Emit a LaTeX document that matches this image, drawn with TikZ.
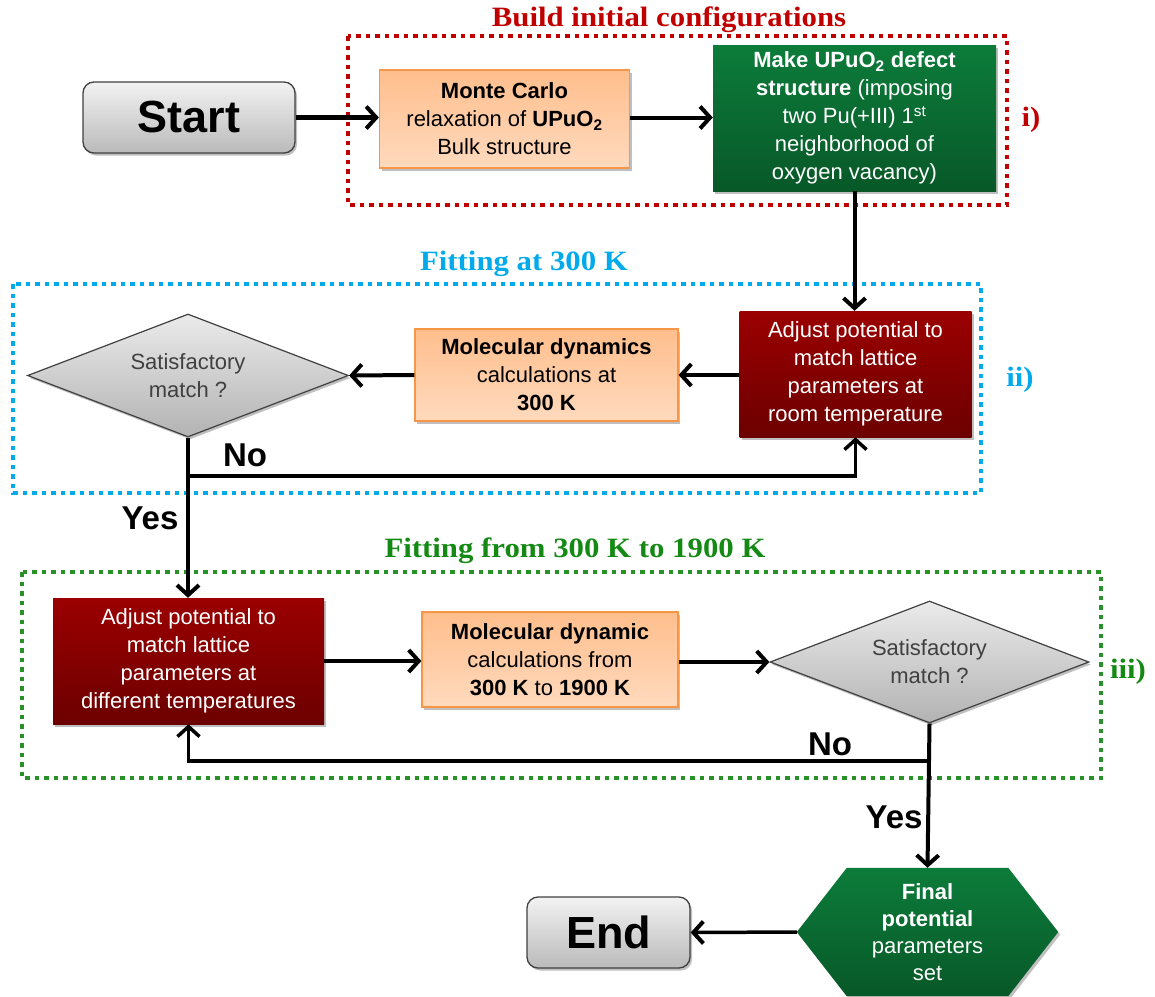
\documentclass[tikz,border=0pt]{standalone}
\usepackage{fontspec}
\setmainfont{Liberation Sans}
\newfontfamily\titlefont[FakeStretch=1.1]{Liberation Serif}
\usetikzlibrary{arrows.meta,shadows,shapes.geometric,calc}
\definecolor{tred}{RGB}{192,0,0}
\definecolor{tblue}{RGB}{0,170,235}
\definecolor{tgreen}{RGB}{20,138,20}
\definecolor{dgreen}{RGB}{40,145,40}
\definecolor{orbord}{RGB}{247,150,70}
\definecolor{ortop}{RGB}{255,190,140}
\definecolor{orbot}{RGB}{255,218,190}
\definecolor{rtop}{RGB}{155,0,0}
\definecolor{rbot}{RGB}{108,0,0}
\definecolor{gtop}{RGB}{12,124,58}
\definecolor{gbot}{RGB}{8,88,40}
\definecolor{txtgray}{RGB}{64,64,64}
\begin{document}
\begin{tikzpicture}[x=1pt,y=-1pt,
  shad/.style={drop shadow={shadow xshift=2pt,shadow yshift=-2.5pt,opacity=0.25,fill=black}},
  box/.style={inner sep=0pt,align=center,font=\fontsize{22}{28}\selectfont,shad},
  graybox/.style={box,rounded corners=11pt,draw=black!75,line width=1.3pt,top color=black!5,bottom color=black!27,font=\fontsize{45}{50}\selectfont\bfseries},
  orangebox/.style={box,draw=orbord,line width=1.2pt,top color=ortop,bottom color=orbot},
  redbox/.style={box,top color=rtop,bottom color=rbot,text=white},
  greenbox/.style={box,top color=gtop,bottom color=gbot,text=white},
  decision/.style={diamond,aspect=2.6,inner sep=0pt,align=center,draw=black!75,line width=1.2pt,top color=black!8,bottom color=black!30,text=txtgray,font=\fontsize{22}{28}\selectfont,shad},
  frame/.style={line width=4pt,dash pattern=on 4.5pt off 5pt},
  ttl/.style={font=\titlefont\fontsize{28}{30}\selectfont\bfseries},
  lbl/.style={font=\fontsize{33}{36}\selectfont\bfseries},
  arr/.style={line width=4pt,-{Straight Barb[length=10pt,width=22pt,line width=4pt]}},
  lin/.style={line width=3.5pt}
]
\useasboundingbox (0,0) rectangle (1155,996);

% frames
\draw[frame,tred] (348,36) rectangle (1007,205);
\draw[frame,tblue] (13,284) rectangle (981,493);
\draw[frame,dgreen] (22,572) rectangle (1101,778);

\node[ttl,text=tred] (t1) at (669,20) {Build initial configurations};
\node[ttl,text=tblue] (t2) at (524,264) {Fitting at 300 K};
\node[ttl,text=tgreen] (t3) at (575,551) {Fitting from 300 K to 1900 K};
\node[ttl,text=tred] (l1) at (1031,120) {i)};
\node[ttl,text=tblue] (l2) at (1020,380) {ii)};
\node[ttl,text=tgreen] (l3) at (1128,672) {iii)};

% nodes
\node[graybox,minimum width=212pt,minimum height=71pt] (start) at (189,117.5) {Start};
\node[orangebox,minimum width=250pt,minimum height=98pt] (mc) at (504.5,119)
  {{\bfseries Monte Carlo}\\relaxation of {\bfseries UPuO\textsubscript{2}}\\Bulk structure};
\node[greenbox,minimum width=283pt,minimum height=146pt] (mk) at (854.5,118)
  {{\bfseries Make UPuO\textsubscript{2} defect}\\{\bfseries structure} (imposing\\two Pu(+III) 1\textsuperscript{st}\\neighborhood of\\oxygen vacancy)};
\node[redbox,minimum width=232pt,minimum height=126pt] (adj1) at (855.5,374)
  {Adjust potential to\\match lattice\\parameters at\\room temperature};
\node[orangebox,minimum width=263pt,minimum height=92pt] (md1) at (546.5,375)
  {{\bfseries Molecular dynamics}\\calculations at\\{\bfseries 300 K}};
\node[decision,minimum width=321pt,minimum height=123pt] (dec1) at (188,375.5)
  {Satisfactory\\match ?};
\node[redbox,minimum width=271pt,minimum height=126pt] (adj2) at (188.5,661)
  {Adjust potential to\\match lattice\\parameters at\\different temperatures};
\node[orangebox,minimum width=256pt,minimum height=95pt] (md2) at (550,659.5)
  {{\bfseries Molecular dynamic}\\calculations from\\{\bfseries 300 K} to {\bfseries 1900 K}};
\node[decision,minimum width=319pt,minimum height=122pt] (dec2) at (929.5,662)
  {Satisfactory\\match ?};
\node[inner sep=0pt,minimum width=261pt,minimum height=128pt] (fin) at (927.5,932) {};
\path[top color=gtop,bottom color=gbot,shad]
  ([xshift=50pt]fin.north west) -- ([xshift=-50pt]fin.north east) -- (fin.east)
  -- ([xshift=-50pt]fin.south east) -- ([xshift=50pt]fin.south west) -- (fin.west) -- cycle;
\node[align=center,text=white,font=\fontsize{22}{27}\selectfont] (fintext) at (fin.center)
  {{\bfseries Final}\\{\bfseries potential}\\parameters\\set};
\node[graybox,minimum width=163pt,minimum height=71pt] (endn) at (608.5,932.5) {End};

% connectors
\draw[arr,line width=4.5pt] (start.east) -- (start.east -| mc.west);
\draw[arr] (mc.east |- start.east) -- (start.east -| mk.west);
\draw[arr] (mk.south) -- (mk.south |- adj1.north);
\draw[arr] (adj1.west |- md1.east) -- (md1.east);
\draw[arr] (md1.west) -- (dec1.east);
\draw[arr] (dec1.south) -- (dec1.south |- adj2.north);
\coordinate (j1) at (dec1.south |- 0,476);
\draw[lin,-{Straight Barb[length=10pt,width=22pt,line width=3.5pt]}] (j1) -- (j1 -| adj1.south) -- (adj1.south);
\node[lbl] (no1) at (245,455) {No};
\node[lbl] (yes1) at (150,518) {Yes};
\draw[arr] (adj2.east) -- (adj2.east -| md2.west);
\draw[arr] (md2.east |- dec2.west) -- (dec2.west);
\draw[arr] (dec2.south) -- (fin.north);
\coordinate (j2) at (dec2.south |- 0,761);
\draw[lin,-{Straight Barb[length=10pt,width=22pt,line width=3.5pt]}] (j2) -- (j2 -| adj2.south) -- (adj2.south);
\node[lbl] (no2) at (830,744) {No};
\node[lbl] (yes2) at (894,817) {Yes};
\draw[arr,line width=3.5pt] (fin.west) -- (endn.east);
\end{tikzpicture}
\end{document}
